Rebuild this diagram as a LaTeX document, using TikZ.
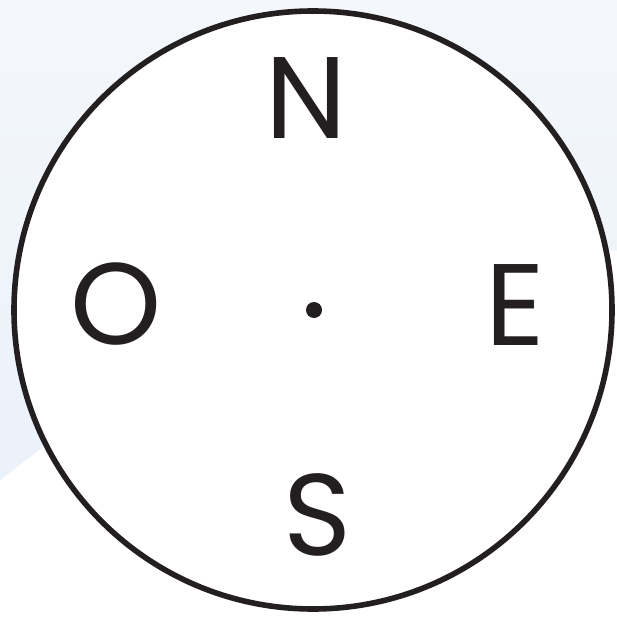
\documentclass[tikz,border=0pt]{standalone}
\usepackage{fontspec}
\setmainfont{Poppins}
\definecolor{paletop}{HTML}{F4F7FC}
\definecolor{palebot}{HTML}{E8F0F9}
\definecolor{ink}{HTML}{231F20}
\tikzset{
  cardinal/.style={font=\fontsize{116}{116}\selectfont, text=ink, inner sep=0pt, anchor=center},
}
\begin{document}
\begin{tikzpicture}[x=1pt,y=-1pt]
\useasboundingbox (0,0) rectangle (617,617);
\shade[top color=paletop, bottom color=palebot] (0,0) rectangle (617,617);
\begin{scope}
\clip (0,0) rectangle (617,617);
\fill[white] (650,1281) circle (1031);
\end{scope}
\node[circle, draw=ink, fill=white, line width=5.6pt, minimum size=598pt, inner sep=0pt] (rose) at (313,310) {};
\fill[ink] (314,310) circle (8);
\node[cardinal] (n) at (306,98) {N};
\node[cardinal] (o) at (116,304) {O};
\node[cardinal] (e) at (515,305) {E};
\node[cardinal] (s) at (318,515) {S};
\end{tikzpicture}
\end{document}
